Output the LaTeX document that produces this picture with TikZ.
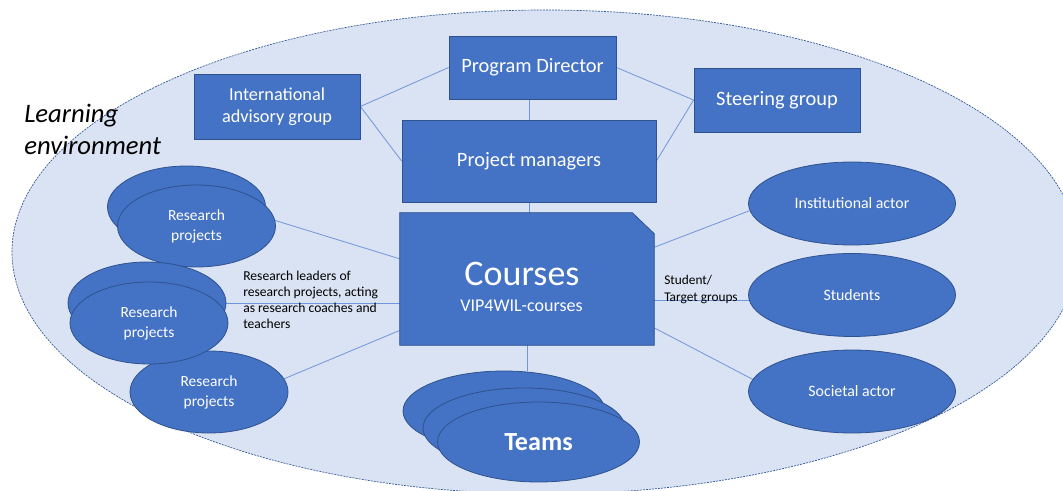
\documentclass[tikz,border=0pt]{standalone}
\usepackage{fontspec}
\setmainfont{Carlito}
\usetikzlibrary{shapes.geometric}
\definecolor{envfill}{HTML}{DAE3F3}
\definecolor{envline}{HTML}{2F5597}
\definecolor{boxfill}{HTML}{4472C4}
\definecolor{boxline}{HTML}{2F528F}
\definecolor{linkc}{HTML}{6F95DA}
\pgfdeclarelayer{envlayer}
\pgfdeclarelayer{linklayer}
\pgfsetlayers{envlayer,linklayer,main}
\begin{document}
\begin{tikzpicture}[x=0.75pt,y=-0.75pt,
  blue shape/.style={fill=boxfill,draw=boxline,line width=0.6pt,text=white,inner sep=0pt,align=center},
  box/.style={blue shape,rectangle},
  oval/.style={blue shape,ellipse},
  rp/.style={oval,minimum width=158*0.75pt,minimum height=82*0.75pt,font=\fontsize{11.6}{15}\selectfont},
  actor/.style={oval,minimum width=207*0.75pt,minimum height=83*0.75pt,font=\fontsize{11.9}{14}\selectfont},
  team/.style={oval,minimum width=202*0.75pt,minimum height=80*0.75pt},
  link/.style={draw=linkc,line width=0.6pt},
  note/.style={align=left,inner sep=0pt,text=black,font=\fontsize{10.2}{12}\selectfont}]

\useasboundingbox (0,0) rectangle (1063,491);

% learning environment
\begin{pgfonlayer}{envlayer}
\filldraw[fill=envfill,draw=envline,dash pattern=on 1.5pt off 0.8pt,line width=0.5pt]
  (545,252) ellipse [x radius=533,y radius=242];
\end{pgfonlayer}
\node[anchor=west,align=left,inner sep=0pt,font=\itshape\fontsize{20}{24}\selectfont] (env) at (24,129) {Learning\\environment};

% governance boxes
\node[box,minimum width=167*0.75pt,minimum height=63*0.75pt,font=\fontsize{15.3}{18}\selectfont] (pd) at (532.5,67.5) {Program Director};
\node[box,minimum width=166*0.75pt,minimum height=65*0.75pt,font=\fontsize{13.7}{16.5}\selectfont] (iag) at (277,106.5) {International\\advisory group};
\node[box,minimum width=254*0.75pt,minimum height=82*0.75pt,font=\fontsize{15.3}{18}\selectfont] (pm) at (529,161) {Project managers};
\node[box,minimum width=166*0.75pt,minimum height=64*0.75pt,font=\fontsize{15.3}{18}\selectfont] (sg) at (777,100) {Steering group};

% courses (snipped corner)
\node[rectangle,minimum width=254*0.75pt,minimum height=132*0.75pt,inner sep=0pt] (courses) at (527,279) {};
\filldraw[fill=boxfill,draw=boxline,line width=0.6pt]
  (courses.south west) -- (courses.north west) -- ([xshift=-22*0.75pt]courses.north east)
  -- ([yshift=-21*0.75pt]courses.north east) -- (courses.south east) -- cycle;
\node[text=white,inner sep=0pt,font=\fontsize{27}{30}\selectfont] (ctitle) at (522,273.5) {Courses};
\node[text=white,inner sep=0pt,font=\fontsize{13.5}{16}\selectfont] (csub) at (521.5,305.5) {VIP4WIL-courses};

% research projects
\node[rp] (rp1b) at (186.5,207) {};
\node[rp] (rp1) at (196.5,226) {Research\\projects};
\node[rp] (rp3) at (209,392) {Research\\projects};
\node[rp] (rp2b) at (147,303) {};
\node[rp] (rp2) at (149,323) {Research\\projects};

% actors
\node[actor] (inst) at (852,203.5) {Institutional actor};
\node[actor] (stud) at (852,295) {Students};
\node[actor] (soc) at (852,391.5) {Societal actor};

% teams
\node[team] (t1) at (504,411) {};
\node[team] (t2) at (524,428) {};
\node[team,font=\bfseries\fontsize{19.6}{22}\selectfont] (teams) at (538.5,442) {Teams};

% labels
\node[note,anchor=west] (leaders) at (243,300) {Research leaders of\\research projects, acting\\as research coaches and\\teachers};
\node[note,anchor=west,font=\fontsize{10}{12.75}\selectfont] (target) at (664,289.5) {Student/\\Target groups};

% connectors
\begin{pgfonlayer}{linklayer}
\draw[link] (iag.east) -- (pd.west);
\draw[link] (iag.east) -- (pm.west);
\draw[link] (pd.east) -- (sg.west);
\draw[link] (sg.west) -- (pm.east);
\draw[link] (pm.north) -- (pm.north |- pd.south);
\draw[link] (pm.south) -- (pm.south |- courses.north);
\draw[link] (rp1.4) -- (courses.171);
\draw[link] (rp2b.east) -- (rp2b.east -| courses.west);
\draw[link] (rp3.10) -- (courses.202);
\draw[link] (courses.14.6) -- (inst.184);
\draw[link] (stud.183) -- (stud.183 -| courses.east);
\draw[link] (courses.-21.5) -- (soc.173);
\draw[link] (courses.south) -- (courses.south |- t1.north);
\end{pgfonlayer}
\end{tikzpicture}
\end{document}
